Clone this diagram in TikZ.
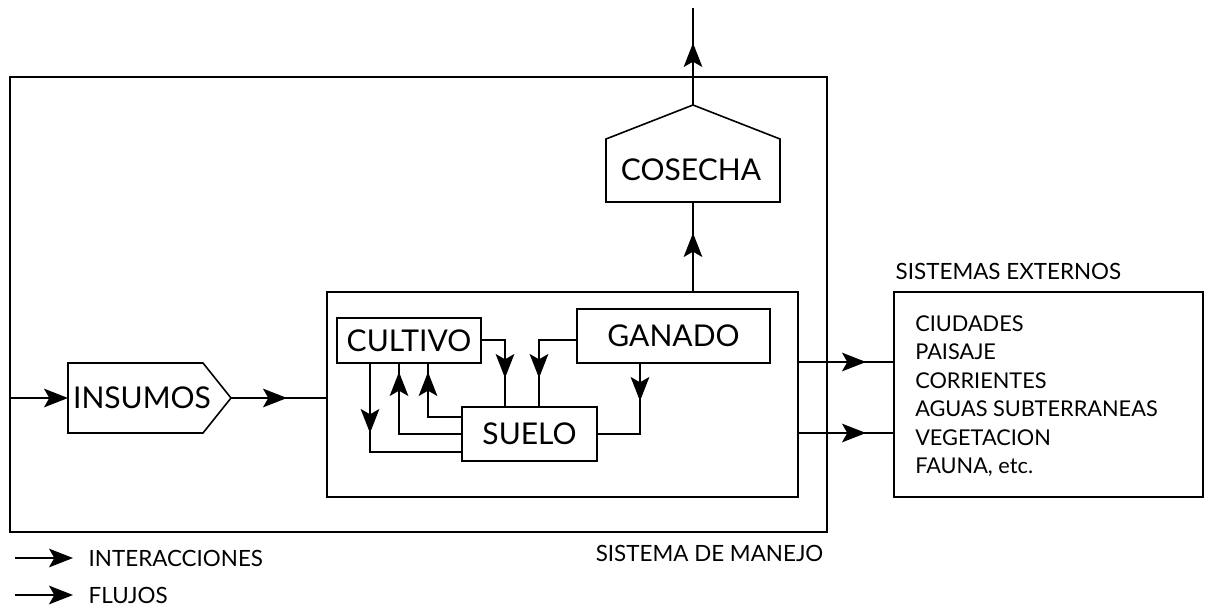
\documentclass[tikz,border=0pt]{standalone}
\usepackage{fontspec}
\setmainfont{Lato}
\usetikzlibrary{arrows.meta}
\tikzset{
  ln/.style={line width=1.2pt, line join=miter},
  box/.style={ln, draw, rectangle, inner sep=0pt},
  tip/.style={ln, -{Stealth[length=18pt, width=14pt, inset=4pt]}},
  big/.style={font=\fontsize{22.5}{26}\selectfont},
  small/.style={font=\fontsize{16.8}{20}\selectfont},
}
\begin{document}
\begin{tikzpicture}[x=0.75pt, y=-0.75pt]
\useasboundingbox (0,0) rectangle (1206,607);
% boxes
\node[box, minimum width={817*0.75pt}, minimum height={455*0.75pt}] (manejo) at (418.5,304.5) {};
\node[box, minimum width={471*0.75pt}, minimum height={205*0.75pt}] (inner) at (562.5,394.5) {};
\node[box, big, minimum width={144*0.75pt}, minimum height={45*0.75pt}] (cultivo) at (409,340.5) {CULTIVO};
\node[box, big, minimum width={193*0.75pt}, minimum height={54*0.75pt}] (ganado) at (673.5,336) {GANADO};
\node[box, big, minimum width={135*0.75pt}, minimum height={54*0.75pt}] (suelo) at (529.5,434) {SUELO};
\node[box, minimum width={309*0.75pt}, minimum height={205*0.75pt}] (externos) at (1048.5,394.5) {};
% cosecha
\coordinate (cosT) at (693,105);
\coordinate (cosB) at (693,202);
\draw[ln] (cosT) -- (780,139) -- (780,202) -- (606,202) -- (606,139) -- cycle;
\node[big] (cosecha) at (691,170) {COSECHA};
% insumos
\coordinate (insL) at (68,398);
\coordinate (insR) at (231,398);
\draw[ln] (68,363) -- (203,363) -- (insR) -- (203,433) -- (68,433) -- cycle;
\node[big] (insumos) at (142,398) {INSUMOS};
% labels
\node[small, anchor=west] (extlab) at (891,271) {SISTEMAS EXTERNOS};
\node[small, anchor=east] (manlab) at (828,553) {SISTEMA DE MANEJO};
\node[anchor=north west, align=left, inner sep=0pt,
      font=\fontsize{16.3}{21.4}\selectfont] (lista) at (915,315)
  {CIUDADES\\PAISAJE\\CORRIENTES\\AGUAS SUBTERRANEAS\\VEGETACION\\FAUNA, etc.};
% legend
\coordinate (l1a) at (15,558); \coordinate (l1b) at (73,558);
\coordinate (l2a) at (15,595); \coordinate (l2b) at (73,595);
\draw[tip] (l1a) -- (l1b);
\draw[tip] (l2a) -- (l2b);
\node[small, anchor=west] (inter) at (84,558) {INTERACCIONES};
\node[small, anchor=west] (flujos) at (84,595) {FLUJOS};
% top output
\coordinate (out) at (693,8);
\draw[ln] (cosT) -- (out);
\draw[tip] (cosT) -- (693,43);
% inner -> cosecha
\draw[ln] (cosB |- inner.north) -- (cosB);
\draw[tip] (cosB |- inner.north) -- (693,233);
% insumos
\draw[tip] (manejo.west |- insL) -- (insL);
\draw[ln] (insR) -- (inner.west |- insR);
\draw[tip] (insR) -- (287,398);
% to external systems
\draw[ln] (inner.east |- 0,362) -- (externos.west |- 0,362);
\draw[tip] (inner.east |- 0,362) -- (866,362);
\draw[ln] (inner.east |- 0,433) -- (externos.west |- 0,433);
\draw[tip] (inner.east |- 0,433) -- (866,433);
% cultivo -> suelo
\draw[ln] (cultivo.east |- 0,340) -| (suelo.north -| 505,0);
\draw[tip] (505,345) -- (505,378);
% ganado -> suelo
\draw[ln] (ganado.west |- 0,340) -| (suelo.north -| 539,0);
\draw[tip] (539,345) -- (539,378);
% ganado -> suelo right
\draw[ln] (ganado.south -| 640,0) |- (suelo.east |- 0,434);
\draw[tip] (640,368) -- (640,401);
% cultivo -> suelo left bottom
\draw[ln] (cultivo.south -| 370,0) |- (suelo.west |- 0,452);
\draw[tip] (370,400) -- (370,433);
% suelo -> cultivo
\draw[ln] (suelo.west |- 0,434) -| (cultivo.south -| 399,0);
\draw[tip] (399,405) -- (399,372);
\draw[ln] (suelo.west |- 0,417) -| (cultivo.south -| 428,0);
\draw[tip] (428,405) -- (428,372);
\end{tikzpicture}
\end{document}
